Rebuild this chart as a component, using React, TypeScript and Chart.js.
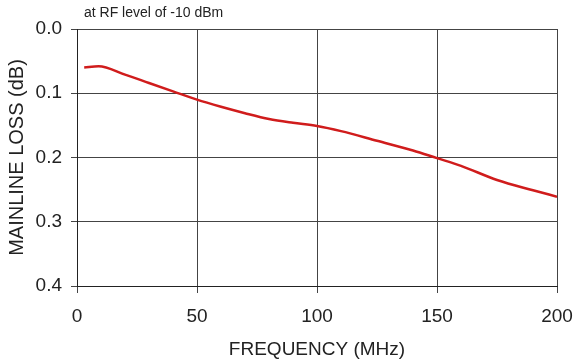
import React, { useEffect, useRef } from "react";
import { Chart, registerables } from "chart.js";

Chart.register(...registerables);

const frequencies = [3, 9, 20, 30, 40, 50, 60, 70, 80, 90, 100, 110, 125, 140, 150, 160, 175, 190, 200];
const mainlineLoss = [0.06, 0.058, 0.071, 0.084, 0.097, 0.11, 0.121, 0.131, 0.14, 0.146, 0.151, 0.159, 0.174, 0.189, 0.201, 0.213, 0.235, 0.251, 0.261];
const xTicks = [0, 50, 100, 150, 200];
const yTicks = [0, 0.1, 0.2, 0.3, 0.4];
const subtitle = "at RF level of -10 dBm";
const xTitle = "FREQUENCY (MHz)";
const yTitle = "MAINLINE LOSS (dB)";

const FONT = "'Liberation Sans', Arial, sans-serif";

export default function App() {
  const ref = useRef<HTMLCanvasElement | null>(null);
  useEffect(() => {
    document.body.style.margin = "0";
    const canvas = ref.current!;
    const subtitlePlugin = {
      id: "subtitleText",
      afterDraw(chart: any) {
        const ctx = chart.ctx;
        ctx.save();
        ctx.font = `14px ${FONT}`;
        ctx.fillStyle = "#222";
        ctx.textBaseline = "middle";
        ctx.textAlign = "left";
        ctx.fillText(subtitle, chart.chartArea.left + 7, 13);
        ctx.restore();
      },
    };
    const chart = new Chart(canvas, {
      type: "line",
      data: {
        datasets: [
          {
            data: frequencies.map((f, i) => ({ x: f, y: mainlineLoss[i] })),
            borderColor: "#d01c1c",
            borderWidth: 2.5,
            pointRadius: 0,
            cubicInterpolationMode: "monotone",
            fill: false,
          },
        ],
      },
      options: {
        animation: false,
        responsive: false,
        devicePixelRatio: 1,
        layout: { padding: { top: 29, right: 0, left: 0, bottom: 0 } },
        plugins: { legend: { display: false }, tooltip: { enabled: false } },
        scales: {
          x: {
            type: "linear",
            min: xTicks[0],
            max: xTicks[xTicks.length - 1],
            afterBuildTicks: (s: any) => { s.ticks = xTicks.map((v) => ({ value: v })); },
            afterFit: (s: any) => { s.height = 78; s.paddingRight = 17; },
            grid: { color: "#444", lineWidth: 1, tickLength: 7, drawTicks: true },
            border: { color: "#222", width: 1 },
            ticks: { color: "#222", font: { family: FONT, size: 19 }, padding: 12, maxRotation: 0 },
            title: { display: true, text: xTitle, color: "#222", font: { family: FONT, size: 19 }, padding: { top: 0, bottom: 3 } },
          },
          y: {
            type: "linear",
            reverse: true,
            min: yTicks[0],
            max: yTicks[yTicks.length - 1],
            afterBuildTicks: (s: any) => { s.ticks = yTicks.map((v) => ({ value: v })); },
            afterFit: (s: any) => { s.width = 77; },
            grid: { color: "#444", lineWidth: 1, tickLength: 6, drawTicks: true },
            border: { color: "#222", width: 1 },
            ticks: { color: "#222", font: { family: FONT, size: 19 }, padding: 9, callback: (v: any) => Number(v).toFixed(1) },
            title: { display: true, text: yTitle, color: "#222", font: { family: FONT, size: 20 }, padding: { top: 5, bottom: 0 } },
          },
        },
      } as any,
      plugins: [subtitlePlugin],
    });
    return () => chart.destroy();
  }, []);
  return (
    <div style={{ position: "absolute", left: 0, top: 0, width: 574, height: 364, background: "#fff" }}>
      <canvas ref={ref} width={574} height={364} style={{ width: 574, height: 364, display: "block" }} />
    </div>
  );
}
